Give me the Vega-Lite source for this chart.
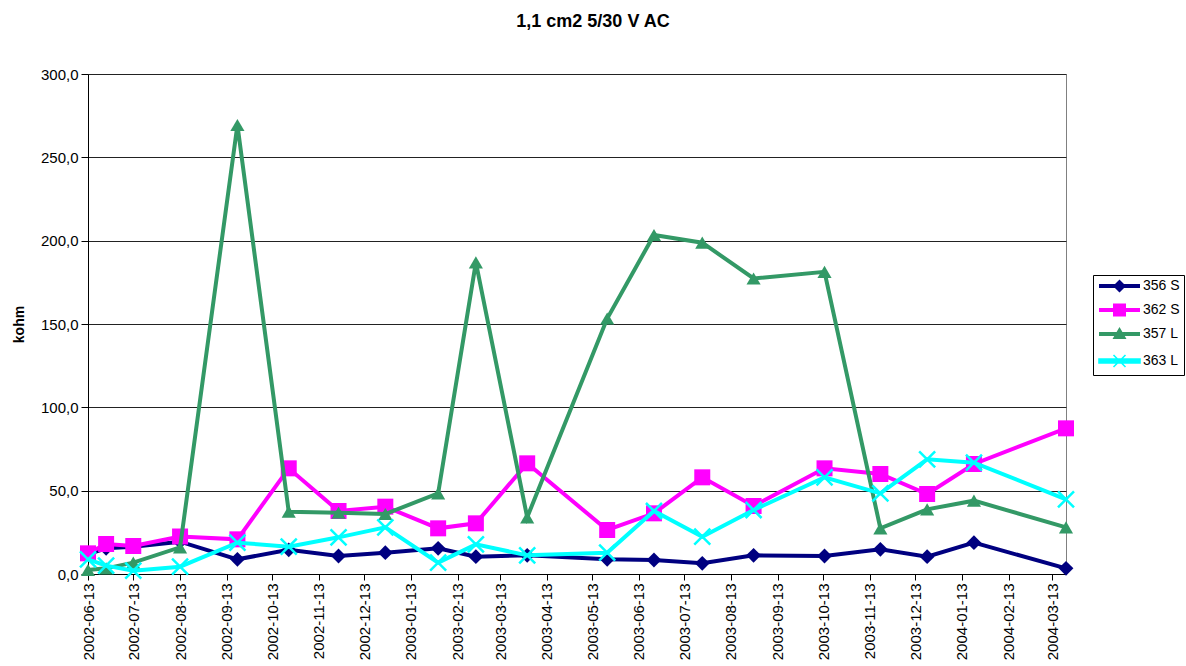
{
  "$schema": "https://vega.github.io/schema/vega-lite/v6.json",
  "width": 978,
  "height": 500,
  "autosize": {"type": "none"},
  "padding": {"left": 88, "top": 74, "right": 120, "bottom": 92},
  "background": "white",
  "title": {"text": "1,1 cm2 5/30 V AC", "font": "Liberation Sans", "fontSize": 18, "fontWeight": "bold", "color": "#000", "anchor": "middle", "frame": "group", "dx": 16, "offset": 36},
  "config": {
    "view": {"stroke": "#808080", "strokeWidth": 1},
    "font": "Liberation Sans"
  },
  "data": {"values": [
    {"d":"2002-06-13","s":"356 S","v":12},{"d":"2002-06-25","s":"356 S","v":15.4},{"d":"2002-07-13","s":"356 S","v":16.4},{"d":"2002-08-13","s":"356 S","v":19.4},{"d":"2002-09-20","s":"356 S","v":8.8},{"d":"2002-10-24","s":"356 S","v":14.5},{"d":"2002-11-26","s":"356 S","v":10.8},{"d":"2002-12-27","s":"356 S","v":12.8},{"d":"2003-01-31","s":"356 S","v":15.4},{"d":"2003-02-25","s":"356 S","v":10.4},{"d":"2003-03-31","s":"356 S","v":11.2},{"d":"2003-05-23","s":"356 S","v":8.8},{"d":"2003-06-23","s":"356 S","v":8.4},{"d":"2003-07-25","s":"356 S","v":6.4},{"d":"2003-08-28","s":"356 S","v":11.2},{"d":"2003-10-14","s":"356 S","v":10.8},{"d":"2003-11-20","s":"356 S","v":14.8},{"d":"2003-12-21","s":"356 S","v":10.4},{"d":"2004-01-21","s":"356 S","v":18.8},{"d":"2004-03-22","s":"356 S","v":3.4},
    {"d":"2002-06-13","s":"362 S","v":12.4},{"d":"2002-06-25","s":"362 S","v":18},{"d":"2002-07-13","s":"362 S","v":16.8},{"d":"2002-08-13","s":"362 S","v":22.5},{"d":"2002-09-20","s":"362 S","v":20.8},{"d":"2002-10-24","s":"362 S","v":63.4},{"d":"2002-11-26","s":"362 S","v":37.8},{"d":"2002-12-27","s":"362 S","v":40.4},{"d":"2003-01-31","s":"362 S","v":27.4},{"d":"2003-02-25","s":"362 S","v":30.4},{"d":"2003-03-31","s":"362 S","v":66.4},{"d":"2003-05-23","s":"362 S","v":26.4},{"d":"2003-06-23","s":"362 S","v":36.4},{"d":"2003-07-25","s":"362 S","v":58},{"d":"2003-08-28","s":"362 S","v":40.8},{"d":"2003-10-14","s":"362 S","v":63.4},{"d":"2003-11-20","s":"362 S","v":60},{"d":"2003-12-21","s":"362 S","v":48},{"d":"2004-01-21","s":"362 S","v":66},{"d":"2004-03-22","s":"362 S","v":87.4},
    {"d":"2002-06-13","s":"357 L","v":2.4},{"d":"2002-06-25","s":"357 L","v":3.4},{"d":"2002-07-13","s":"357 L","v":6.8},{"d":"2002-08-13","s":"357 L","v":16},{"d":"2002-09-20","s":"357 L","v":269.4},{"d":"2002-10-24","s":"357 L","v":37.4},{"d":"2002-11-26","s":"357 L","v":36.8},{"d":"2002-12-27","s":"357 L","v":36},{"d":"2003-01-31","s":"357 L","v":48.4},{"d":"2003-02-25","s":"357 L","v":187},{"d":"2003-03-31","s":"357 L","v":34},{"d":"2003-05-23","s":"357 L","v":153.3},{"d":"2003-06-23","s":"357 L","v":203.4},{"d":"2003-07-25","s":"357 L","v":198.8},{"d":"2003-08-28","s":"357 L","v":177.3},{"d":"2003-10-14","s":"357 L","v":181.3},{"d":"2003-11-20","s":"357 L","v":27.4},{"d":"2003-12-21","s":"357 L","v":38.8},{"d":"2004-01-21","s":"357 L","v":44},{"d":"2004-03-22","s":"357 L","v":28},
    {"d":"2002-06-13","s":"363 L","v":8.8},{"d":"2002-06-25","s":"363 L","v":5},{"d":"2002-07-13","s":"363 L","v":2},{"d":"2002-08-13","s":"363 L","v":4.4},{"d":"2002-09-20","s":"363 L","v":18.8},{"d":"2002-10-24","s":"363 L","v":16.4},{"d":"2002-11-26","s":"363 L","v":22},{"d":"2002-12-27","s":"363 L","v":28},{"d":"2003-01-31","s":"363 L","v":6.8},{"d":"2003-02-25","s":"363 L","v":17.8},{"d":"2003-03-31","s":"363 L","v":11.2},{"d":"2003-05-23","s":"363 L","v":12.8},{"d":"2003-06-23","s":"363 L","v":37.8},{"d":"2003-07-25","s":"363 L","v":22.4},{"d":"2003-08-28","s":"363 L","v":38.4},{"d":"2003-10-14","s":"363 L","v":58},{"d":"2003-11-20","s":"363 L","v":48.4},{"d":"2003-12-21","s":"363 L","v":68.8},{"d":"2004-01-21","s":"363 L","v":66.8},{"d":"2004-03-22","s":"363 L","v":44.8}
  ]},
  "encoding": {
    "x": {
      "field": "d", "type": "temporal",
      "scale": {"type": "utc", "domain": [{"year": 2002, "month": 6, "date": 13, "utc": true}, {"year": 2004, "month": 3, "date": 22, "utc": true}]},
      "axis": {
        "title": null, "grid": false, "format": "%Y-%m-%d", "labelAngle": 270,
        "labelFont": "Liberation Sans", "labelFontSize": 15, "labelColor": "#000",
        "domainColor": "#000", "domainWidth": 1, "tickColor": "#000", "tickSize": 6, "labelPadding": 3,
        "labelOverlap": false, "labelFlush": false,
        "values": [
          {"year": 2002, "month": 6, "date": 13, "utc": true}, {"year": 2002, "month": 7, "date": 13, "utc": true}, {"year": 2002, "month": 8, "date": 13, "utc": true}, {"year": 2002, "month": 9, "date": 13, "utc": true}, {"year": 2002, "month": 10, "date": 13, "utc": true}, {"year": 2002, "month": 11, "date": 13, "utc": true}, {"year": 2002, "month": 12, "date": 13, "utc": true},
          {"year": 2003, "month": 1, "date": 13, "utc": true}, {"year": 2003, "month": 2, "date": 13, "utc": true}, {"year": 2003, "month": 3, "date": 13, "utc": true}, {"year": 2003, "month": 4, "date": 13, "utc": true}, {"year": 2003, "month": 5, "date": 13, "utc": true}, {"year": 2003, "month": 6, "date": 13, "utc": true}, {"year": 2003, "month": 7, "date": 13, "utc": true}, {"year": 2003, "month": 8, "date": 13, "utc": true}, {"year": 2003, "month": 9, "date": 13, "utc": true}, {"year": 2003, "month": 10, "date": 13, "utc": true}, {"year": 2003, "month": 11, "date": 13, "utc": true}, {"year": 2003, "month": 12, "date": 13, "utc": true},
          {"year": 2004, "month": 1, "date": 13, "utc": true}, {"year": 2004, "month": 2, "date": 13, "utc": true}, {"year": 2004, "month": 3, "date": 13, "utc": true}
        ]
      }
    },
    "y": {
      "field": "v", "type": "quantitative",
      "scale": {"domain": [0, 300], "nice": false, "zero": true},
      "axis": {
        "title": "kohm", "titleFont": "Liberation Sans", "titleFontSize": 14, "titleFontWeight": "bold", "titleColor": "#000", "titlePadding": 14,
        "values": [0, 50, 100, 150, 200, 250, 300],
        "labelExpr": "replace(format(datum.value, '.1f'), '.', ',')",
        "labelFont": "Liberation Sans", "labelFontSize": 15, "labelColor": "#000", "labelPadding": 3,
        "domainColor": "#000", "tickColor": "#000", "tickSize": 7,
        "grid": true, "gridColor": "#222", "gridWidth": 1
      }
    },
    "color": {
      "field": "s", "type": "nominal",
      "scale": {"domain": ["356 S", "362 S", "357 L", "363 L"], "range": ["#000080", "#FF00FF", "#339966", "#00FFFF"]},
      "legend": {
        "title": null, "orient": "none", "legendX": 1005, "legendY": 201,
        "labelFont": "Liberation Sans", "labelFontSize": 14, "labelColor": "#000",
        "strokeColor": "#000", "fillColor": "white", "padding": 4,
        "symbolSize": 100, "labelOffset": 32, "rowPadding": 10,
        "encode": {"symbols": {"update": {
          "shape": {"signal": "datum.value === '356 S' ? 'M-1,-0.4H7.2V0.4H-1ZM3.1,-1.3L4.4,0L3.1,1.3L1.8,0Z' : datum.value === '362 S' ? 'M-1,-0.4H7.2V0.4H-1ZM1.8,-1.3H4.4V1.3H1.8Z' : datum.value === '357 L' ? 'M-1,-0.4H7.2V0.4H-1ZM3.1,-1.4L4.5,1H1.7Z' : 'M-1,-0.4H7.2V0.4H-1ZM1.9,-1.2L4.3,1.2M4.3,-1.2L1.9,1.2'"},
          "fill": {"signal": "scale('color', datum.value)"},
          "stroke": {"signal": "scale('color', datum.value)"},
          "strokeWidth": {"signal": "datum.value === '363 L' ? 1.6 : 0"},
          "opacity": {"value": 1},
          "fillOpacity": {"value": 1},
          "size": {"value": 100}
        }}}
      }
    }
  },
  "layer": [
    {"transform": [{"filter": "datum.s === '356 S'"}], "mark": {"type": "line", "strokeWidth": 4, "point": {"shape": "diamond", "size": 220, "filled": true, "opacity": 1}}},
    {"transform": [{"filter": "datum.s === '362 S'"}], "mark": {"type": "line", "strokeWidth": 4, "point": {"shape": "square", "size": 256, "filled": true, "opacity": 1}}},
    {"transform": [{"filter": "datum.s === '357 L'"}], "mark": {"type": "line", "strokeWidth": 4, "point": {"shape": "triangle-up", "size": 200, "filled": true, "opacity": 1}}},
    {"transform": [{"filter": "datum.s === '363 L'"}], "mark": {"type": "line", "strokeWidth": 4, "point": {"shape": "M-1,-1L1,1M1,-1L-1,1", "size": 256, "filled": false, "strokeWidth": 2.5, "opacity": 1}}}
  ]
}
